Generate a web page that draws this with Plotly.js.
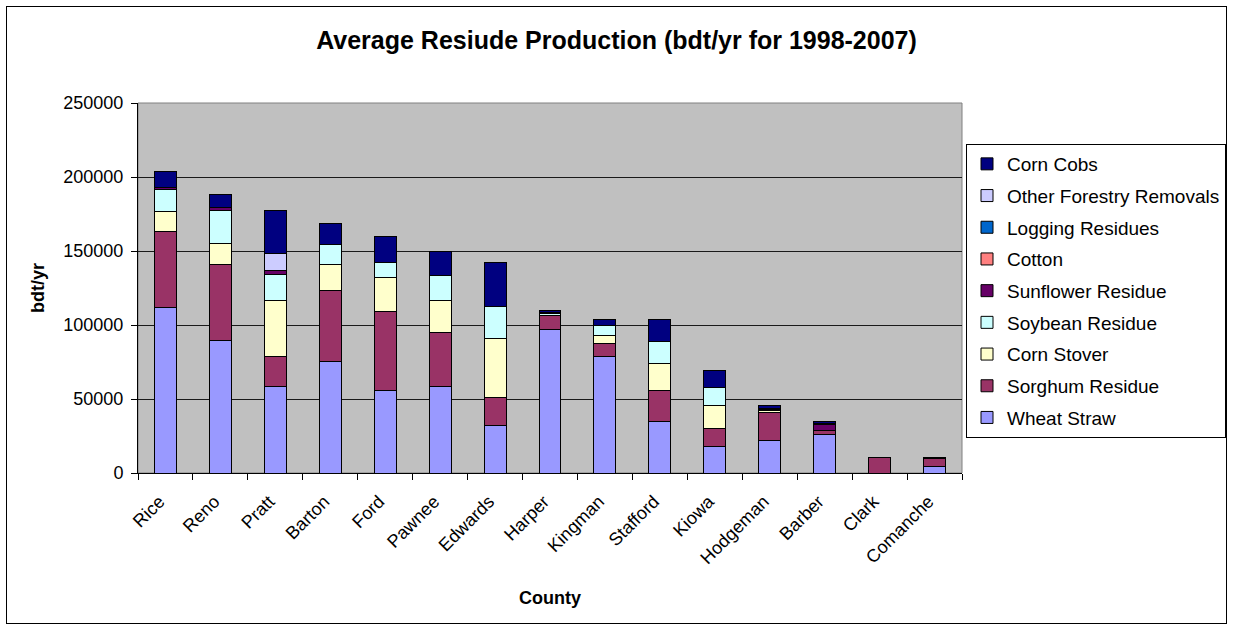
<!DOCTYPE html>
<html>
<head>
<meta charset="utf-8">
<script src="https://cdn.plot.ly/plotly-3.0.1.min.js"></script>
<style>
  html, body { margin: 0; padding: 0; background: #ffffff; }
  #wrap { position: relative; width: 1233px; height: 631px; }
  #chart { position: absolute; left: 0; top: 0; width: 1233px; height: 631px; }
  #frame { position: absolute; left: 6px; top: 6px; width: 1219px; height: 616px;
           border: 1px solid #000; pointer-events: none; }
</style>
</head>
<body>
<div id="wrap">
  <div id="chart"></div>
  <div id="frame"></div>
</div>
<script>
// Counties, in the order they are plotted
const counties = ["Rice", "Reno", "Pratt", "Barton", "Ford", "Pawnee", "Edwards", "Harper",
                  "Kingman", "Stafford", "Kiowa", "Hodgeman", "Barber", "Clark", "Comanche"];

// Average residue production per county, bdt/yr (1998-2007)
const wheatStraw      = [111600, 89700, 58700, 75500, 56000, 58700, 32100, 97100, 78600, 35000, 17600, 21900, 26000,     0, 4500];
const sorghumResidue  = [ 51500, 51500, 19900, 47500, 53400, 36400, 18800,  9000,  9000, 20800, 12400, 18800,  2900, 10600, 5300];
const cornStover      = [ 13600, 13600, 38200, 17600, 22800, 21500, 40000,     0,  5400, 18300, 15600,  1800,     0,     0,    0];
const soybeanResidue  = [ 14900, 22600, 17400, 13800, 10200, 16700, 21400,  1800,  6800, 14700, 12000,   500,     0,     0,    0];
const sunflowerResidue= [  1000,  1800,  2400,     0,     0,     0,     0,   800,     0,     0,     0,   600,  3800,     0,  800];
const cotton          = [     0,     0,     0,     0,     0,     0,     0,     0,     0,     0,     0,     0,     0,     0,    0];
const loggingResidues = [     0,     0,     0,     0,     0,     0,     0,     0,     0,     0,     0,     0,     0,     0,    0];
const otherForestry   = [     0,     0, 11800,     0,     0,     0,     0,     0,     0,     0,     0,     0,   700,     0,    0];
const cornCobs        = [ 10800,  9200, 28900, 14000, 17600, 16300, 30100,   800,  3600, 14600, 11700,  2000,  1400,     0,    0];

const yTicks = [0, 50000, 100000, 150000, 200000, 250000];

// Series, bottom of the stack first
const series = [
  { name: "Wheat Straw",             values: wheatStraw,       color: "#9999FF" },
  { name: "Sorghum Residue",         values: sorghumResidue,   color: "#993366" },
  { name: "Corn Stover",             values: cornStover,       color: "#FFFFCC" },
  { name: "Soybean Residue",         values: soybeanResidue,   color: "#CCFFFF" },
  { name: "Sunflower Residue",       values: sunflowerResidue, color: "#660066" },
  { name: "Cotton",                  values: cotton,           color: "#FF8080" },
  { name: "Logging Residues",        values: loggingResidues,  color: "#0066CC" },
  { name: "Other Forestry Removals", values: otherForestry,    color: "#CCCCFF" },
  { name: "Corn Cobs",               values: cornCobs,         color: "#000080" }
];

// Legend lists the top of the stack first
const traces = series.map((s, i) => ({
  type: "bar",
  name: s.name,
  x: counties,
  y: s.values,
  legendgroup: s.name,
  legendrank: 100 - i,
  marker: { color: s.color, line: { color: "#000000", width: 1 } },
  hovertemplate: "%{x}<br>" + s.name + ": %{y}<extra></extra>"
}));

const font = "Liberation Sans, Arial, sans-serif";

const layout = {
  width: 1233,
  height: 631,
  margin: { l: 138, r: 271, t: 103, b: 158, autoexpand: false },
  paper_bgcolor: "rgba(0,0,0,0)",
  plot_bgcolor: "#C0C0C0",
  barmode: "stack",
  bargap: 0.6,
  font: { family: font, size: 18, color: "#000000" },
  title: {
    text: "<b>Average Resiude Production (bdt/yr for 1998-2007)</b>",
    font: { family: font, size: 25, color: "#000000" },
    x: 0.5, xref: "container", xanchor: "center",
    y: 1 - 40 / 631, yref: "container", yanchor: "middle"
  },
  xaxis: {
    type: "category",
    tickangle: -45,
    tickfont: { family: font, size: 18 },
    ticks: "outside",
    tickson: "boundaries",
    ticklen: 6,
    tickcolor: "#000000",
    ticklabelstandoff: 10,
    ticklabelshift: -6,
    showline: true,
    linecolor: "#000000",
    linewidth: 1,
    showgrid: false,
    title: { text: "<b>County</b>", font: { family: font, size: 18 }, standoff: 24 },
    automargin: false
  },
  yaxis: {
    range: [0, 250000],
    tickvals: yTicks,
    ticktext: yTicks.map(v => String(v)),
    tickfont: { family: font, size: 18 },
    ticks: "outside",
    ticklen: 6,
    tickcolor: "#000000",
    ticklabelstandoff: 4,
    showline: true,
    linecolor: "#000000",
    linewidth: 1,
    showgrid: true,
    gridcolor: "#1a1a1a",
    gridwidth: 1,
    zeroline: false,
    title: { text: "<b>bdt/yr</b>", font: { family: font, size: 18 }, standoff: 14 },
    automargin: false
  },
  legend: {
    x: (1226 - 138) / 824,
    xanchor: "right",
    y: (473 - 144) / 370,
    yanchor: "top",
    traceorder: "grouped",
    tracegroupgap: 4,
    bgcolor: "#ffffff",
    bordercolor: "#000000",
    borderwidth: 1,
    font: { family: font, size: 19 }
  },
  shapes: [{
    type: "rect", xref: "paper", yref: "paper",
    x0: 0, x1: 1, y0: 0, y1: 1,
    line: { color: "#808080", width: 1 },
    layer: "below"
  }],
  showlegend: true
};

Plotly.newPlot("chart", traces, layout, { displayModeBar: false, staticPlot: true });
</script>
</body>
</html>
